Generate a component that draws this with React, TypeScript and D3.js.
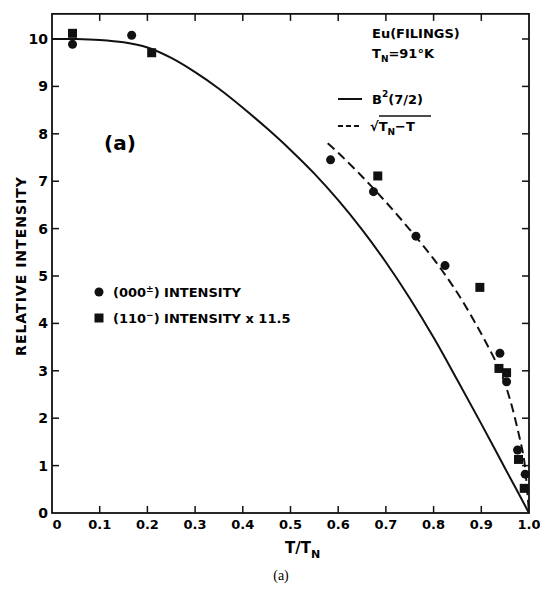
import React, { useEffect, useRef } from "react"
import * as d3 from "d3"

// values (T/TN, relative intensity)
const brillouinT = [0, 0.05, 0.1, 0.15, 0.2, 0.25, 0.3, 0.35, 0.4, 0.45, 0.5, 0.55, 0.6, 0.65, 0.7, 0.75, 0.8, 0.85, 0.9, 0.95, 1.0]
const brillouinI = [10, 10, 9.98, 9.93, 9.82, 9.6, 9.3, 8.95, 8.55, 8.12, 7.66, 7.16, 6.6, 5.98, 5.29, 4.53, 3.7, 2.8, 1.88, 0.94, 0]

const sqrtT = [0.578, 0.6, 0.65, 0.7, 0.75, 0.8, 0.85, 0.9, 0.94, 0.96, 0.98, 0.99, 1.0]
const sqrtI = [7.8, 7.6, 7.1, 6.56, 5.98, 5.36, 4.64, 3.78, 2.98, 2.4, 1.6, 1.1, 0]

const circleT = [0.043, 0.167, 0.584, 0.674, 0.763, 0.824, 0.939, 0.953, 0.976, 0.992]
const circleI = [9.89, 10.08, 7.45, 6.78, 5.84, 5.22, 3.37, 2.77, 1.33, 0.82]

const squareT = [0.043, 0.209, 0.683, 0.897, 0.937, 0.953, 0.978, 0.99]
const squareI = [10.12, 9.71, 7.11, 4.76, 3.05, 2.96, 1.13, 0.52]

const xTicks = [0, 0.1, 0.2, 0.3, 0.4, 0.5, 0.6, 0.7, 0.8, 0.9, 1.0]
const xTickLabels = ["0", "0.1", "0.2", "0.3", "0.4", "0.5", "0.6", "0.7", "0.8", "0.9", "1.0"]
const yTicks = [0, 1, 2, 3, 4, 5, 6, 7, 8, 9, 10]

const W = 540
const H = 592
const font = "'DejaVu Sans', sans-serif"

export default function App() {
	const ref = useRef<SVGSVGElement>(null)

	useEffect(() => {
		const svg = d3.select(ref.current)
		svg.selectAll("*").remove()

		const x = d3.scaleLinear().domain([0, 1]).range([52, 529])
		const y = d3.scaleLinear().domain([0, 10]).range([513, 39])
		const yTop = y(10.53)

		const g = svg.append("g")

		/* frame */
		g.append("rect")
			.attr("x", x(0))
			.attr("y", yTop)
			.attr("width", x(1) - x(0))
			.attr("height", y(0) - yTop)
			.attr("fill", "none")
			.attr("stroke", "#111")
			.attr("stroke-width", 1.8)

		/* inward ticks on all four sides */
		const tl = 7
		xTicks.slice(1, -1).forEach((t) => {
			g.append("line").attr("x1", x(t)).attr("x2", x(t)).attr("y1", y(0)).attr("y2", y(0) - tl)
				.attr("stroke", "#111").attr("stroke-width", 1.5)
			g.append("line").attr("x1", x(t)).attr("x2", x(t)).attr("y1", yTop).attr("y2", yTop + tl)
				.attr("stroke", "#111").attr("stroke-width", 1.5)
		})
		yTicks.slice(1).forEach((v) => {
			g.append("line").attr("x1", x(0)).attr("x2", x(0) + tl).attr("y1", y(v)).attr("y2", y(v))
				.attr("stroke", "#111").attr("stroke-width", 1.5)
			g.append("line").attr("x1", x(1)).attr("x2", x(1) - tl).attr("y1", y(v)).attr("y2", y(v))
				.attr("stroke", "#111").attr("stroke-width", 1.5)
		})

		/* tick labels */
		g.selectAll(".xl")
			.data(xTicks)
			.join("text")
			.attr("x", (d, i) => x(d) + (i === 0 ? 5 : 0))
			.attr("y", 529)
			.attr("text-anchor", "middle")
			.style("font-family", font)
			.style("font-weight", "bold")
			.style("font-size", "13px")
			.text((d, i) => xTickLabels[i])

		g.selectAll(".yl")
			.data(yTicks)
			.join("text")
			.attr("x", 48)
			.attr("y", (d) => y(d) + 5)
			.attr("text-anchor", "end")
			.style("font-family", font)
			.style("font-weight", "bold")
			.style("font-size", "14px")
			.text((d) => d)

		/* axis titles */
		g.append("text")
			.attr("transform", "translate(26,266) rotate(-90)")
			.attr("text-anchor", "middle")
			.style("font-family", font)
			.style("font-weight", "bold")
			.style("font-size", "14px")
			.style("letter-spacing", "1px")
			.text("RELATIVE INTENSITY")

		const xt = g.append("text")
			.attr("x", 285)
			.attr("y", 553)
			.style("font-family", font)
			.style("font-weight", "bold")
			.style("font-size", "15px")
		xt.append("tspan").text("T/T")
		xt.append("tspan").attr("dy", 5).style("font-size", "11px").text("N")

		/* curves */
		const line = d3.line<[number, number]>()
			.x((d) => x(d[0]))
			.y((d) => y(d[1]))
			.curve(d3.curveCatmullRom)

		g.append("path")
			.attr("d", line(brillouinT.map((t, i) => [t, brillouinI[i]] as [number, number])))
			.attr("fill", "none")
			.attr("stroke", "#111")
			.attr("stroke-width", 2)

		g.append("path")
			.attr("d", line(sqrtT.map((t, i) => [t, sqrtI[i]] as [number, number])))
			.attr("fill", "none")
			.attr("stroke", "#111")
			.attr("stroke-width", 2)
			.attr("stroke-dasharray", "9,5")

		/* data points */
		g.selectAll(".pt")
			.data(circleT)
			.join("circle")
			.attr("cx", (d) => x(d))
			.attr("cy", (d, i) => y(circleI[i]))
			.attr("r", 4.5)
			.attr("fill", "#111")

		g.selectAll(".sq")
			.data(squareT)
			.join("rect")
			.attr("x", (d) => x(d) - 4.5)
			.attr("y", (d, i) => y(squareI[i]) - 4.5)
			.attr("width", 9)
			.attr("height", 9)
			.attr("fill", "#111")

		/* labels inside the plot */
		g.append("text")
			.attr("x", 120)
			.attr("y", 150)
			.attr("text-anchor", "middle")
			.style("font-family", font)
			.style("font-size", "20px")
			.style("font-weight", "bold")
			.text("(a)")

		const ht = g.append("g").style("font-family", font).style("font-weight", "bold")
		ht.append("text").attr("x", 372).attr("y", 38).style("font-size", "13px").text("Eu(FILINGS)")
		const tn = ht.append("text").attr("x", 372).attr("y", 58).style("font-size", "13px")
		tn.append("tspan").text("T")
		tn.append("tspan").attr("dy", 4).style("font-size", "9px").text("N")
		tn.append("tspan").attr("dy", -4).text("=91°K")

		// legend for the two curves
		ht.append("line").attr("x1", 338).attr("x2", 362).attr("y1", 99).attr("y2", 99)
			.attr("stroke", "#111").attr("stroke-width", 2)
		const b = ht.append("text").attr("x", 372).attr("y", 104).style("font-size", "13px")
		b.append("tspan").text("B")
		b.append("tspan").attr("dy", -7).style("font-size", "9px").text("2")
		b.append("tspan").attr("dy", 7).text("(7/2)")

		ht.append("line").attr("x1", 338).attr("x2", 362).attr("y1", 126).attr("y2", 126)
			.attr("stroke", "#111").attr("stroke-width", 2).attr("stroke-dasharray", "5,3")
		const s = ht.append("text").attr("x", 370).attr("y", 131).style("font-size", "13px")
		s.append("tspan").text("√")
		s.append("tspan").text("T")
		s.append("tspan").attr("dy", 4).style("font-size", "9px").text("N")
		s.append("tspan").attr("dy", -4).text("−T")
		ht.append("line").attr("x1", 379).attr("x2", 431).attr("y1", 116).attr("y2", 116)
			.attr("stroke", "#111").attr("stroke-width", 1.5)

		// legend for the two data sets
		g.append("circle").attr("cx", 99).attr("cy", 292).attr("r", 4.5).attr("fill", "#111")
		const l1 = ht.append("text").attr("x", 113).attr("y", 297).style("font-size", "13px")
		l1.append("tspan").text("(000")
		l1.append("tspan").attr("dy", -5).style("font-size", "9px").text("±")
		l1.append("tspan").attr("dy", 5).text(") INTENSITY")

		g.append("rect").attr("x", 94.5).attr("y", 313.5).attr("width", 9).attr("height", 9).attr("fill", "#111")
		const l2 = ht.append("text").attr("x", 113).attr("y", 323).style("font-size", "13px")
		l2.append("tspan").text("(110")
		l2.append("tspan").attr("dy", -5).style("font-size", "9px").text("−")
		l2.append("tspan").attr("dy", 5).text(") INTENSITY x 11.5")

		/* figure caption */
		g.append("text")
			.attr("x", 281)
			.attr("y", 580)
			.attr("text-anchor", "middle")
			.style("font-family", "'Liberation Serif', serif")
			.style("font-size", "14px")
			.text("(a)")
	}, [])

	return (
		<svg
			ref={ref}
			width={W}
			height={H}
			style={{ position: "absolute", left: 0, top: 0, background: "white" }}
		/>
	)
}
